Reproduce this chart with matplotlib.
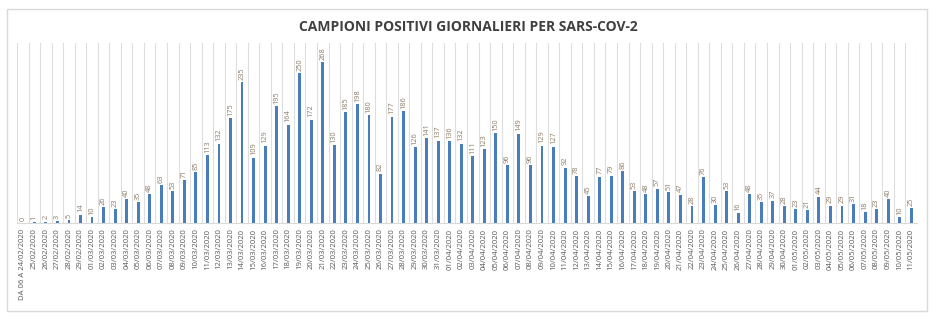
import matplotlib.pyplot as plt
from matplotlib.patches import Rectangle

# date giornaliere (24/02/2020 - 11/05/2020)
giorni = ["DA 06 A 24/02/2020", "25/02/2020", "26/02/2020", "27/02/2020", "28/02/2020", "29/02/2020"]
giorni += ["%02d/03/2020" % d for d in range(1, 32)]
giorni += ["%02d/04/2020" % d for d in range(1, 31)]
giorni += ["%02d/05/2020" % d for d in range(1, 12)]

# campioni positivi per giorno
positivi = [0, 1, 2, 3, 5, 14,
            10, 26, 23, 40, 35, 48, 63, 53, 71, 85, 113, 132, 175, 235, 109, 129,
            195, 164, 250, 172, 268, 130, 185, 198, 180, 82, 177, 186, 126, 141, 137,
            136, 132, 111, 123, 150, 96, 149, 96, 129, 127, 92, 78, 45, 77, 79, 86,
            53, 48, 57, 51, 47, 28, 76, 30, 53, 16, 48, 35, 37, 28,
            23, 21, 44, 29, 29, 31, 18, 23, 40, 10, 25]

fig = plt.figure(figsize=(9.36, 3.19), dpi=100)
ax = fig.add_axes([0.0182, 0.301, 0.9615, 0.564])

# cornice grigia attorno al grafico
fig.patches.append(Rectangle((0.0075, 0.025), 0.983, 0.947, transform=fig.transFigure,
                             fill=False, edgecolor="#d9d9d9", linewidth=1))

x = range(len(positivi))
ax.bar(x, positivi, width=0.25, color="#4a7ebb", zorder=3)

for i, v in enumerate(positivi):
    ax.text(i, v + 4, str(v), rotation=90, ha="center", va="bottom",
            fontsize=5.3, color="#8c7b66", family="Open Sans")

ax.set_xlim(-0.5, len(positivi) - 0.5)
ax.set_ylim(0, 300)
ax.set_xticks(list(x))
ax.set_xticklabels(giorni, rotation=90, fontsize=5.6, color="#595959", family="Open Sans")
ax.tick_params(axis="x", length=0, pad=4)
ax.set_yticks([])

# griglia verticale tra le categorie
for b in range(len(positivi) + 1):
    ax.axvline(b - 0.5, color="#dedede", linewidth=0.8, zorder=1)

for s in ["top", "right", "left"]:
    ax.spines[s].set_visible(False)
ax.spines["bottom"].set_color("#d9d9d9")

fig.text(0.5, 0.915, "CAMPIONI POSITIVI GIORNALIERI PER SARS-COV-2", ha="center", va="center",
         fontsize=10, fontweight="bold", color="#404040", family="Open Sans")

plt.savefig("out.png", dpi=100)
